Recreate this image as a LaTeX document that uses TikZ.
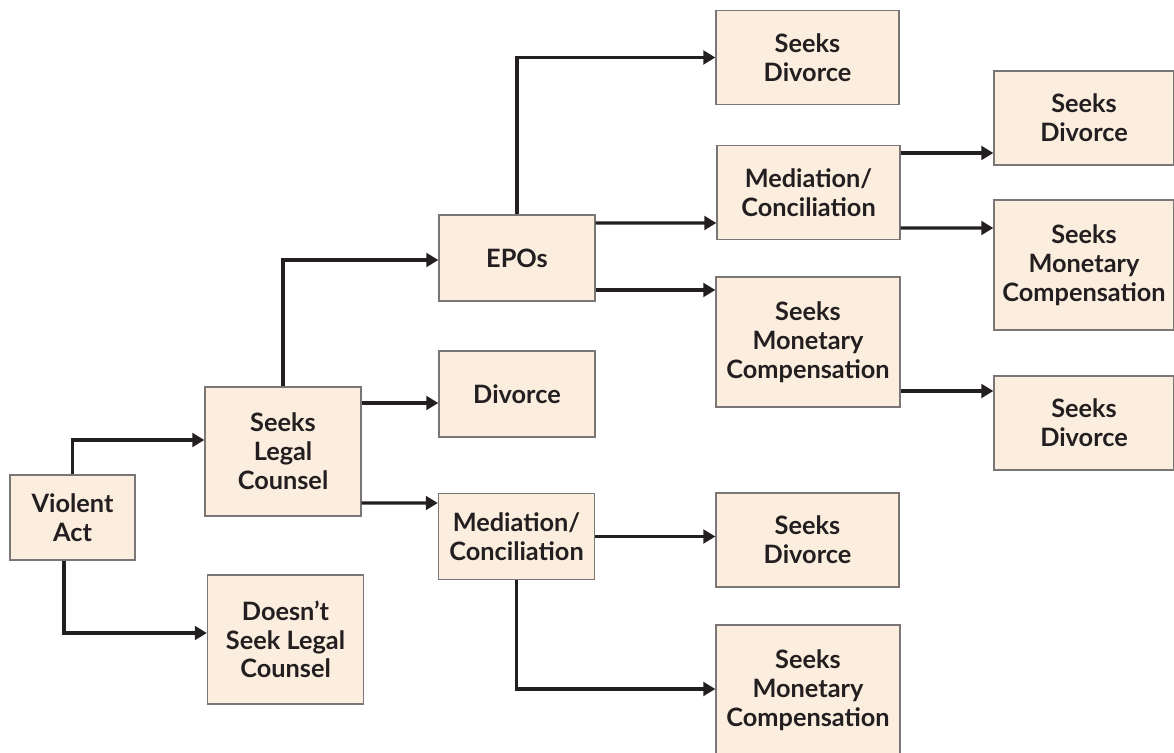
\documentclass[tikz,border=0pt]{standalone}
\usepackage{fontspec}
\setmainfont{Lato}
\usepackage{tikz}
\usetikzlibrary{calc}
\usetikzlibrary{arrows.meta}

\definecolor{boxfill}{HTML}{FCEEDF}
\definecolor{boxline}{HTML}{7A7676}
\definecolor{linkcol}{HTML}{231F20}

\tikzset{
    box/.style = {draw = boxline, line width = 0.9pt, fill = boxfill, align = center,
        inner sep = 0pt, font = \fontsize{18}{20.5}\selectfont\bfseries, text = linkcol},
    narrow/.style = {box, minimum width = 3.9cm, minimum height = 2.15cm},
    narrowtall/.style = {box, minimum width = 3.9cm, minimum height = 3.225cm},
    wide/.style = {box, minimum width = 4.575cm, minimum height = 2.35cm},
    widetall/.style = {box, minimum width = 4.6cm, minimum height = 3.25cm},
    link/.style = {draw = linkcol, line width = 2.3pt,
        -{Triangle[length = 0.3cm, width = 0.34cm]}}
}

\begin{document}
\begin{tikzpicture}[x = 0.025cm, y = -0.025cm]
    \useasboundingbox (0,0) rectangle (1174,753);

    % first column
    \node[box, minimum width = 3.125cm, minimum height = 2.125cm] (va) at (72.5,517.5) {Violent\\Act};

    % second column
    \node[narrowtall] (slc) at (283,451.5) {Seeks\\Legal\\Counsel};
    \node[narrowtall] (nslc) at (285.5,639.5) {Doesn't\\Seek Legal\\Counsel};

    % third column
    \node[narrow] (epo) at (517,258) {EPOs};
    \node[narrow] (div) at (517,394) {Divorce};
    \node[narrow] (medlo) at (516.5,536.5) {Mediation/\\Conciliation};

    % fourth column
    \node[wide] (sdtop) at (807.5,57.5) {Seeks\\Divorce};
    \node[wide] (medup) at (808.5,192.5) {Mediation/\\Conciliation};
    \node[widetall] (smcmid) at (808,342) {Seeks\\Monetary\\Compensation};
    \node[wide] (sdlo) at (807.5,540) {Seeks\\Divorce};
    \node[widetall] (smcbot) at (808,690) {Seeks\\Monetary\\Compensation};

    % fifth column
    \node[box, minimum width = 4.5cm, minimum height = 2.35cm] (sdra) at (1084,118) {Seeks\\Divorce};
    \node[box, minimum width = 4.5cm, minimum height = 3.25cm] (smcr) at (1084,265) {Seeks\\Monetary\\Compensation};
    \node[box, minimum width = 4.5cm, minimum height = 2.35cm] (sdrb) at (1084,423) {Seeks\\Divorce};

    % connectors
    \draw[link] (va.north) |- ($(slc.west)+(0,-11.5)$);
    \draw[link] ($(va.south)+(-8.5,0)$) |- ($(nslc.west)+(0,-6.5)$);

    \draw[link] (slc.north) |- ($(epo.west)+(0,2)$);
    \draw[link] ($(slc.east)+(0,-48.5)$) -- ($(div.west)+(0,9)$);
    \draw[link] ($(slc.east)+(0,51.5)$) -- ($(medlo.west)+(0,-33.5)$);

    \draw[link] (epo.north) |- (sdtop.west);
    \draw[link] ($(epo.east)+(0,-35)$) -- ($(medup.west)+(0,30.5)$);
    \draw[link] ($(epo.east)+(0,32)$) -- ($(smcmid.west)+(0,-52)$);

    \draw[link] ($(medup.east)+(0,-39.5)$) -- ($(sdra.west)+(0,35)$);
    \draw[link] ($(medup.east)+(0,35.5)$) -- ($(smcr.west)+(0,-37)$);
    \draw[link] ($(smcmid.east)+(0,49)$) -- ($(sdrb.west)+(0,-32)$);

    \draw[link] (medlo.east) -- (medlo.east -| sdlo.west);
    \draw[link] (medlo.south) |- ($(smcbot.west)+(0,-1)$);
\end{tikzpicture}
\end{document}
